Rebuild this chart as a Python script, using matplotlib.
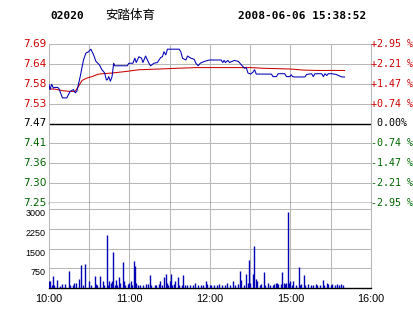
import matplotlib
matplotlib.use("Agg")
import matplotlib.pyplot as plt

# ---------------- data ----------------
prev_close = 7.47
pct_ticks = [-2.95, -2.21, -1.47, -0.74, 0.0, 0.74, 1.47, 2.21, 2.95]
price_tick_labels = ["7.25", "7.30", "7.36", "7.41", "7.47", "7.53", "7.58", "7.64", "7.69"]
pct_tick_labels = ["-2.95 %", "-2.21 %", "-1.47 %", "-0.74 %", " 0.00%",
                   "+0.74 %", "+1.47 %", "+2.21 %", "+2.95 %"]

price_minutes = [0, 0.75, 2, 3.25, 4, 6.5, 7.5, 10, 13.25, 15.75, 18.25, 19.5, 20.75,
                 23.25, 25.7, 27.5, 29.5, 31.25, 33.25, 35, 37.5, 39.5, 41.5, 42.75,
                 43.5, 44.5, 45.75, 47, 48.2, 49, 54.5, 58.3, 59.5, 62.5, 64, 65, 67,
                 69, 70, 72, 74.5, 75.75, 78.2, 80.75, 82, 83.25, 84.5, 85.7, 87, 88.3,
                 97, 98.25, 99.5, 102, 103.3, 105.75, 108.2, 109.5, 111.2, 112.7, 115.7,
                 119.5, 128.25, 129.5, 130.5, 131.5, 133.3, 134.5, 138.2, 141.2, 143.25,
                 144.5, 145.7, 147, 148.3, 150.2, 152, 153.2, 154.5, 165.75, 167, 169.5,
                 170.75, 175.7, 177, 179.5, 180.5, 181.5, 183.2, 190.7, 192, 195.75, 197,
                 198.2, 203.25, 204.5, 205.7, 207, 208.2, 209.5, 210.75, 214, 218.25,
                 220.3]
price_values = [7.578, 7.564, 7.579, 7.568, 7.570, 7.570, 7.566, 7.541, 7.541, 7.559,
                7.564, 7.555, 7.559, 7.600, 7.646, 7.665, 7.669, 7.676, 7.660, 7.642,
                7.633, 7.619, 7.610, 7.591, 7.591, 7.600, 7.587, 7.600, 7.637, 7.630,
                7.630, 7.630, 7.637, 7.637, 7.651, 7.639, 7.655, 7.651, 7.639, 7.657,
                7.637, 7.630, 7.637, 7.639, 7.646, 7.653, 7.655, 7.669, 7.660, 7.676,
                7.676, 7.669, 7.651, 7.646, 7.657, 7.651, 7.648, 7.637, 7.630, 7.637,
                7.642, 7.646, 7.646, 7.639, 7.645, 7.639, 7.645, 7.639, 7.645, 7.642,
                7.633, 7.628, 7.623, 7.625, 7.610, 7.607, 7.612, 7.619, 7.607, 7.607,
                7.600, 7.600, 7.608, 7.608, 7.600, 7.600, 7.605, 7.600, 7.599, 7.599,
                7.606, 7.608, 7.600, 7.608, 7.608, 7.600, 7.608, 7.603, 7.608, 7.608,
                7.608, 7.606, 7.599, 7.599]

avg_minutes = [0, 5, 10, 15, 19.5, 22, 24.5, 28.25, 32, 37, 47, 57, 67, 82, 95, 110,
               150, 160, 170, 180, 190, 200, 220.3]
avg_values = [7.566, 7.565, 7.561, 7.559, 7.559, 7.573, 7.589, 7.596, 7.600, 7.607,
              7.610, 7.614, 7.619, 7.621, 7.623, 7.625, 7.625, 7.623, 7.622, 7.621,
              7.618, 7.617, 7.617]

vol_minutes = [0, 1, 2, 3, 4, 6, 8, 10, 12, 15, 16, 18, 19, 20, 22, 24, 25, 27, 30, 31,
               34, 35, 36, 38, 40, 41, 43, 44, 45, 46, 47, 48, 49, 50, 51, 52, 53, 55,
               56, 57, 59, 60, 61, 62, 63, 64, 65, 66, 68, 70, 72, 74, 75, 76, 79, 80,
               82, 83, 84, 86, 87, 88, 89, 90, 91, 92, 93, 94, 96, 97, 99, 100, 101,
               103, 105, 107, 109, 111, 113, 115, 117, 118, 120, 121, 123, 125, 127,
               129, 131, 133, 135, 137, 139, 141, 142, 143, 145, 147, 148, 149, 150,
               152, 153, 154, 155, 157, 158, 160, 161, 163, 165, 167, 168, 169, 170,
               171, 173, 174, 175, 176, 177, 178, 179, 180, 181, 182, 184, 186, 187,
               188, 190, 191, 193, 195, 197, 199, 200, 202, 204, 205, 207, 208, 210,
               211, 213, 215, 216, 218, 219]
vol_values = [250, 250, 120, 470, 130, 320, 90, 160, 160, 635, 130, 120, 190, 200, 355,
              864, 130, 927, 250, 100, 470, 150, 100, 470, 280, 120, 2007, 100, 250, 200,
              280, 1359, 130, 320, 100, 420, 180, 978, 250, 130, 150, 180, 250, 130,
              1041, 851, 200, 120, 120, 130, 140, 150, 508, 100, 120, 130, 160, 280, 100,
              419, 546, 200, 100, 250, 546, 130, 150, 250, 419, 100, 130, 508, 100, 120,
              130, 130, 190, 120, 130, 100, 280, 150, 130, 100, 130, 100, 150, 100, 130,
              190, 120, 250, 130, 150, 660, 320, 130, 546, 200, 1080, 200, 546, 1588,
              343, 250, 120, 160, 597, 130, 200, 130, 120, 150, 200, 180, 160, 170, 597,
              180, 150, 200, 2883, 180, 280, 120, 250, 130, 787, 130, 150, 508, 130, 150,
              120, 130, 150, 120, 130, 318, 100, 200, 150, 130, 150, 130, 160, 130, 150,
              100]

vol_ticks = [750, 1500, 2250, 3000]
time_tick_minutes = [0, 60, 120, 180, 240]
time_tick_labels = ["10:00", "11:00", "12:00", "15:00", "16:00"]

# ---------------- style ----------------
W, H = 414, 314
RED = "#cc0000"
GREEN = "#006600"
BLUE = "#0000b4"
GRID = "#b8b8b8"
LW = 0.75

fig = plt.figure(figsize=(W / 100, H / 100), dpi=100)
fig.patch.set_facecolor("white")

def rect(l, t, r, b):
    return [l / W, 1 - b / H, (r - l) / W, (b - t) / H]

ax = fig.add_axes(rect(49, 44, 371, 203))
axv = fig.add_axes(rect(49, 203, 371, 288))

ymin = prev_close * (1 + pct_ticks[0] / 100)
ymax = prev_close * (1 + pct_ticks[-1] / 100)
price_ticks = [prev_close * (1 + p / 100) for p in pct_ticks]

# price panel
ax.set_xlim(0, 240)
ax.set_ylim(ymin, ymax)
for m in range(30, 240, 30):
    ax.axvline(m, color=GRID, lw=LW, zorder=1)
for yv in price_ticks[1:-1]:
    ax.axhline(yv, color=GRID, lw=LW, zorder=1)
ax.axhline(prev_close, color="black", lw=1.0, zorder=2)
ax.plot(avg_minutes, avg_values, color=RED, lw=LW, zorder=3)
ax.plot(price_minutes, price_values, color=BLUE, lw=LW, zorder=4)
ax.set_xticks([])
ax.set_yticks([])
for s in ["left", "top", "right"]:
    ax.spines[s].set_color(GRID)
    ax.spines[s].set_linewidth(LW)
ax.spines["bottom"].set_color("black")
ax.spines["bottom"].set_linewidth(1.0)

for yv, lab, p in zip(price_ticks, price_tick_labels, pct_ticks):
    col = RED if p > 0 else (GREEN if p < 0 else "black")
    ax.text(-0.008, yv, lab, transform=ax.get_yaxis_transform(), ha="right",
            va="center", fontsize=7.6, color=col, family="DejaVu Sans")
for yv, lab, p in zip(price_ticks, pct_tick_labels, pct_ticks):
    col = RED if p > 0 else (GREEN if p < 0 else "black")
    ax.text(1.0, yv, lab, transform=ax.get_yaxis_transform(), ha="left",
            va="center", fontsize=7.2, color=col, family="DejaVu Sans Mono")

# volume panel
axv.set_xlim(0, 240)
axv.set_ylim(0, 3230)
for m in range(30, 240, 30):
    axv.axvline(m, color=GRID, lw=LW, zorder=1)
for v in vol_ticks:
    axv.axhline(v, color=GRID, lw=LW, zorder=1)
axv.vlines(vol_minutes, 0, vol_values, color=BLUE, lw=1.0, zorder=3)
axv.set_yticks([])
axv.set_xticks(time_tick_minutes)
axv.set_xticklabels(time_tick_labels, fontsize=7.8, family="Liberation Sans")
axv.tick_params(axis="x", length=0, pad=4)
axv.spines["top"].set_visible(False)
for s in ["left", "right"]:
    axv.spines[s].set_color(GRID)
    axv.spines[s].set_linewidth(LW)
axv.spines["bottom"].set_color("black")
axv.spines["bottom"].set_linewidth(1.0)
for v in vol_ticks:
    axv.text(-0.01, v, str(v), transform=axv.get_yaxis_transform(), ha="right",
             va="top", fontsize=6.5, color="black", family="Liberation Sans")

# title
ty = 1 - 16 / H
fig.text(50 / W, ty, "02020", ha="left", va="center", fontsize=8,
         fontweight="bold", family="DejaVu Sans Mono")
fig.text(105 / W, ty, "安踏体育", ha="left", va="center", fontsize=9,
         family=["Noto Sans CJK SC", "DejaVu Sans"])
fig.text(238 / W, ty, "2008-06-06 15:38:52", ha="left", va="center", fontsize=8,
         fontweight="bold", family="DejaVu Sans Mono")

fig.savefig("out.png", dpi=100)
